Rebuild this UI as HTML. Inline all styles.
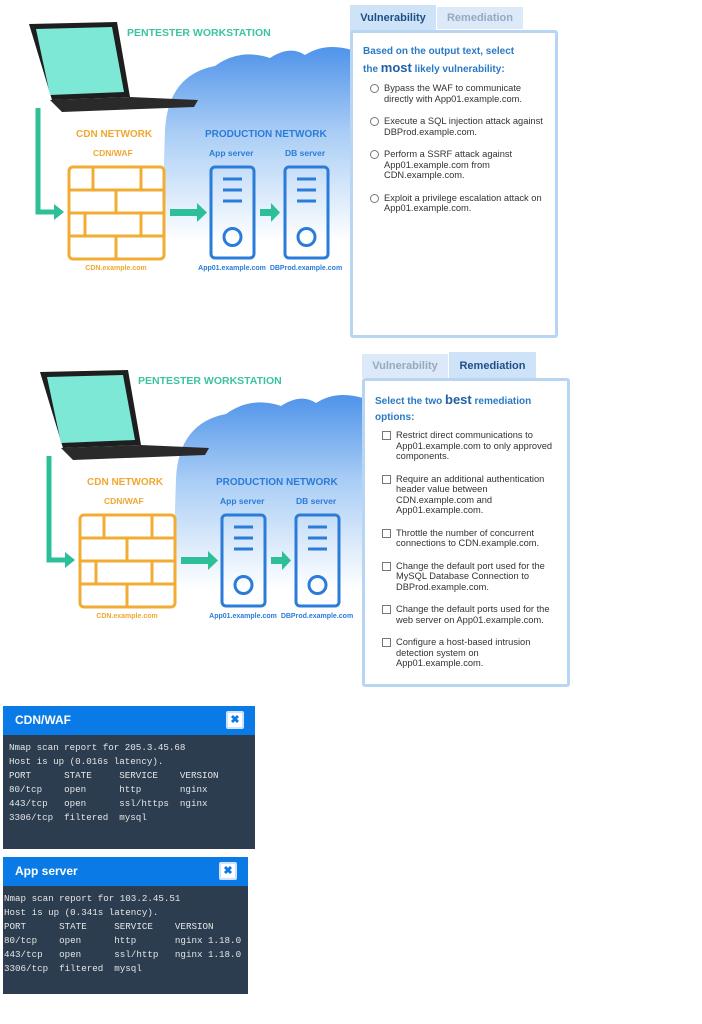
<!DOCTYPE html>
<html><head><meta charset="utf-8"><style>
body{margin:0;width:702px;height:1024px;background:#fff;position:relative;overflow:hidden;font-family:"Liberation Sans",sans-serif}
.tab{position:absolute;font-weight:bold;font-size:11px;text-align:center;box-sizing:border-box}
.panel{position:absolute;border:3px solid #b8d5f3;border-radius:3px;background:#fff;box-sizing:border-box}
.q{color:#2a79c4;font-weight:bold;font-size:10px;line-height:16px}
.q b{font-size:13px;color:#1f5fa8}
.opt{position:relative;font-size:9.3px;color:#333;line-height:10.5px;padding-left:21px;width:160px;margin-bottom:12px}
.opt i{position:absolute;left:7px;top:1px;width:7px;height:7px;border:1px solid #777;background:#fff}
.r i{border-radius:50%}
.nm{position:absolute;background:#2c3d50;color:#e6e6e6;font-family:"Liberation Mono",monospace;font-size:9.2px;line-height:14px;white-space:pre;overflow:hidden}
.nm .h{background:#0a7be6;color:#fff;font-family:"Liberation Sans",sans-serif;font-weight:bold;font-size:12px;height:29px;line-height:29px;padding-left:12px;position:relative}
.nm .x{position:absolute;right:11px;top:5px;width:18px;height:18px;border:2px solid #cfe3ff;background:#fff;border-radius:2px;box-sizing:border-box;color:#0a7be6;font-size:11px;line-height:14px;text-align:center}
</style></head><body>
<svg width="702" height="700" style="position:absolute;left:0;top:0">
<defs>
<linearGradient id="cg" x1="0" y1="0" x2="0" y2="1"><stop offset="0" stop-color="#4f93ea"/><stop offset="0.35" stop-color="#a9cdf5"/><stop offset="0.8" stop-color="#ffffff"/></linearGradient>
<g id="d">
<path d="M165 130 Q168 75 215 66 Q240 48 270 58 Q290 45 305 55 Q325 42 352 50 L352 290 L160 290 Z" fill="url(#cg)"/>
<text x="127" y="36" font-size="10.5" font-weight="bold" fill="#3cc4a0">PENTESTER WORKSTATION</text>
<polygon points="29,24 117,22 130,97 52,100" fill="#1e1e1e"/>
<polygon points="36,29 112,27 124,92 50,95" fill="#7de8d6"/>
<polygon points="50,100 130,97 198,100 194,107 62,112" fill="#2a2a2a"/>
<path d="M38 108 V212 H56" fill="none" stroke="#2dbf98" stroke-width="5"/>
<polygon points="54,204 64,212 54,220" fill="#2dbf98"/>
<text x="76" y="137" font-size="10" font-weight="bold" fill="#f0a830">CDN NETWORK</text>
<text x="93" y="156" font-size="8.5" font-weight="bold" fill="#f0a830">CDN/WAF</text>
<g fill="none" stroke="#f2ac33" stroke-width="3">
<rect x="69" y="167" width="95" height="92" rx="4"/>
<path d="M69 190H164M69 213H164M69 236H164M93 167V190M141 167V190M116 190V213M85 213V236M141 213V236M116 236V259"/>
</g>
<text x="116" y="270" font-size="7" font-weight="bold" fill="#f0a830" text-anchor="middle">CDN.example.com</text>
<rect x="170" y="209" width="28" height="7" fill="#2dbf98"/><polygon points="197,203 207,212.5 197,222" fill="#2dbf98"/>
<rect x="260" y="209" width="12" height="7" fill="#2dbf98"/><polygon points="271,203 280,212.5 271,222" fill="#2dbf98"/>
<text x="205" y="137" font-size="10" font-weight="bold" fill="#2a7cd8">PRODUCTION NETWORK</text>
<text x="209" y="156" font-size="8.5" font-weight="bold" fill="#2a7cd8">App server</text>
<text x="285" y="156" font-size="8.5" font-weight="bold" fill="#2a7cd8">DB server</text>
<g fill="none" stroke="#2a7cd8" stroke-width="3">
<rect x="211" y="167" width="43" height="91" rx="4"/><path d="M223 179H242M223 190H242M223 201H242"/><circle cx="232.5" cy="237" r="8.5"/>
<rect x="285" y="167" width="43" height="91" rx="4"/><path d="M297 179H316M297 190H316M297 201H316"/><circle cx="306.5" cy="237" r="8.5"/>
</g>
<text x="232" y="270" font-size="7" font-weight="bold" fill="#2a7cd8" text-anchor="middle">App01.example.com</text>
<text x="306" y="270" font-size="7" font-weight="bold" fill="#2a7cd8" text-anchor="middle">DBProd.example.com</text>
</g>
</defs>
<use href="#d"/>
<use href="#d" transform="translate(11,348)"/>
</svg>

<div class="tab" style="left:350px;top:5px;width:86px;height:28px;line-height:26px;background:#cfe3f8;color:#1d4f86">Vulnerability</div>
<div class="tab" style="left:437px;top:7px;width:86px;height:22px;line-height:22px;background:#dbe9f8;color:#96a9bf">Remediation</div>
<div class="panel" style="left:350px;top:30px;width:208px;height:308px;padding:11px 0 0 10px">
<div class="q">Based on the output text, select<br>the <b>most</b> likely vulnerability:</div>
<div style="height:5px"></div>
<div class="opt r"><i></i>Bypass the WAF to communicate directly with App01.example.com.</div>
<div class="opt r"><i></i>Execute a SQL injection attack against DBProd.example.com.</div>
<div class="opt r"><i></i>Perform a SSRF attack against App01.example.com from CDN.example.com.</div>
<div class="opt r"><i></i>Exploit a privilege escalation attack on App01.example.com.</div>
</div>

<div class="tab" style="left:362px;top:354px;width:86px;height:24px;line-height:24px;background:#dbe9f8;color:#96a9bf">Vulnerability</div>
<div class="tab" style="left:449px;top:352px;width:87px;height:28px;line-height:28px;background:#cfe3f8;color:#1d4f86">Remediation</div>
<div class="panel" style="left:362px;top:378px;width:208px;height:309px;padding:11px 0 0 10px">
<div class="q">Select the two <b>best</b> remediation<br>options:</div>
<div style="height:4px"></div>
<div class="opt"><i></i>Restrict direct communications to App01.example.com to only approved components.</div>
<div class="opt"><i></i>Require an additional authentication header value between CDN.example.com and App01.example.com.</div>
<div class="opt"><i></i>Throttle the number of concurrent connections to CDN.example.com.</div>
<div class="opt"><i></i>Change the default port used for the MySQL Database Connection to DBProd.example.com.</div>
<div class="opt"><i></i>Change the default ports used for the web server on App01.example.com.</div>
<div class="opt"><i></i>Configure a host-based intrusion detection system on App01.example.com.</div>
</div>

<div class="nm" style="left:3px;top:706px;width:252px;height:143px"><div class="h">CDN/WAF<span class="x">✖</span></div><div style="padding:6px 0 0 6px">Nmap scan report for 205.3.45.68
Host is up (0.016s latency).
PORT      STATE     SERVICE    VERSION
80/tcp    open      http       nginx
443/tcp   open      ssl/https  nginx
3306/tcp  filtered  mysql</div></div>

<div class="nm" style="left:3px;top:857px;width:245px;height:137px"><div class="h">App server<span class="x">✖</span></div><div style="padding:6px 0 0 1px">Nmap scan report for 103.2.45.51
Host is up (0.341s latency).
PORT      STATE     SERVICE    VERSION
80/tcp    open      http       nginx 1.18.0
443/tcp   open      ssl/http   nginx 1.18.0
3306/tcp  filtered  mysql</div></div>
</body></html>
